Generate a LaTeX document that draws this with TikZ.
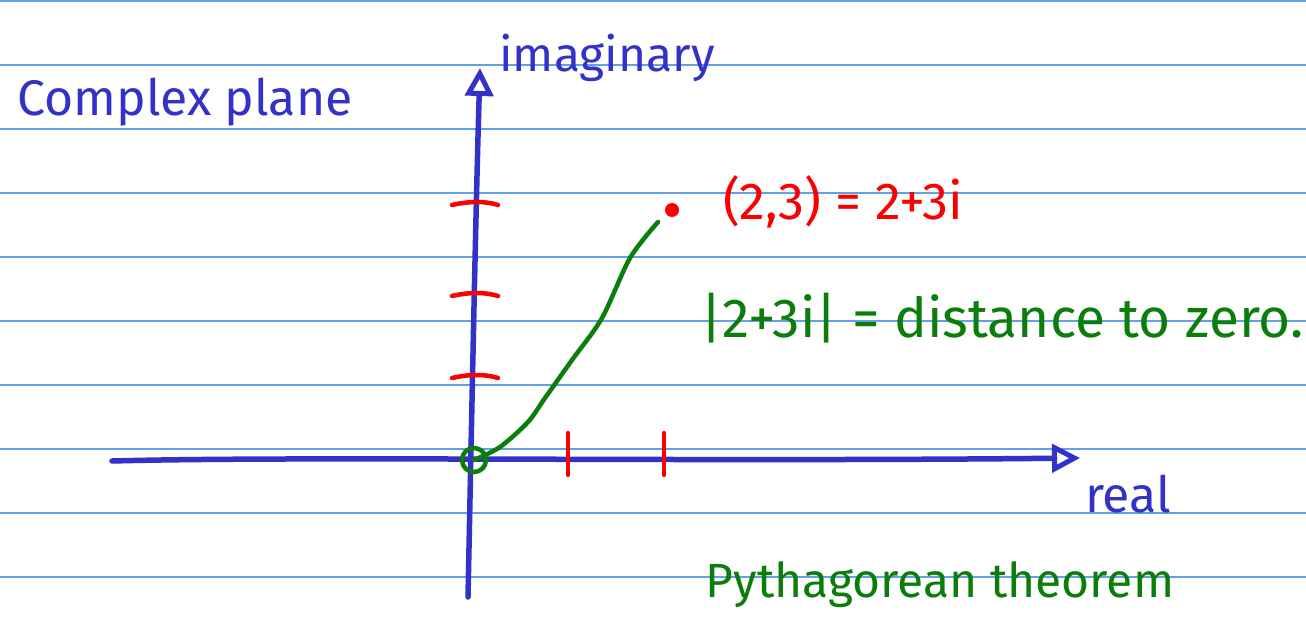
\documentclass[tikz,border=0pt]{standalone}
\usepackage{fontspec}
\setmainfont{Fira Sans}
\usetikzlibrary{arrows.meta}
\definecolor{penblue}{RGB}{50,50,200}
\definecolor{penred}{RGB}{250,0,0}
\definecolor{pengreen}{RGB}{10,125,10}
\definecolor{rule}{RGB}{100,160,230}
\tikzset{
  axis/.style={penblue, line width=5.5pt, line cap=round, -{Triangle[open, length=28pt, width=28pt, line width=5pt]}},
  tick/.style={penred, line width=4.5pt, line cap=round},
  bluetext/.style={penblue, inner sep=0pt},
  redtext/.style={penred, inner sep=0pt},
  greentext/.style={pengreen, inner sep=0pt},
}
\begin{document}
\begin{tikzpicture}[x=1pt, y=-1pt]
    % 页面大小与横线
    \useasboundingbox (0,0) rectangle (1306,620);
    \fill[white] (0,0) rectangle (1306,620);
    \foreach \y in {1,65,...,577}
        \draw[rule, line width=2pt] (0,\y) -- (1306,\y);

    % 原点与端点
    \coordinate (O) at (474,460);
    \coordinate (xstart) at (112,461);
    \coordinate (xend) at (1080,458);
    \coordinate (ystart) at (468,597);
    \coordinate (yend) at (480,68);

    % 坐标轴
    \draw[axis] (xstart) .. controls (300,456) and (700,462) .. (xend);
    \draw[axis] (ystart) .. controls (472,400) and (476,200) .. (yend);

    % 刻度（红色）
    \foreach \t in {1,2}
        \draw[tick] ({472+96*\t},433) -- ({472+96*\t},475);
    \foreach \t/\yy in {1/378, 2/296, 3/205}
        \draw[tick] (452,\yy) .. controls (470,\yy-4) and (485,\yy-4) .. (498,\yy);

    % 点 (2,3) 与到原点的线
    \coordinate (P) at (672,210);
    \fill[penred] (P) circle (7pt);
    \draw[pengreen, line width=4.5pt, line cap=round] (O) circle (12pt);
    \draw[pengreen, line width=4.5pt, line cap=round, smooth]
        plot coordinates {(O) (500,447) (528,422) (545,398) (572,360) (602,318) (630,258) (658,222)};

    % 文字
    \node[bluetext, font=\fontsize{50}{54}\selectfont] (title) at (185,102) {Complex plane};
    \node[bluetext, font=\fontsize{48}{52}\selectfont] (imag) at (607,58) {imaginary};
    \node[bluetext, font=\fontsize{50}{54}\selectfont] (real) at (1128,494) {real};
    \node[redtext, font=\fontsize{52}{56}\selectfont] (point) at (843,202) {(2,3) = 2+3i};
    \node[greentext, font=\fontsize{55}{60}\selectfont] (modulus) at (1002,318) {|2+3i| = distance to zero.};
    \node[greentext, font=\fontsize{48}{52}\selectfont] (pyth) at (940,585) {Pythagorean theorem};
\end{tikzpicture}
\end{document}
